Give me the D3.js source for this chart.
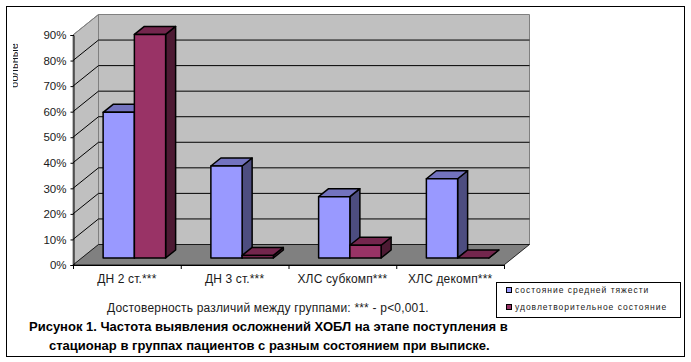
<!DOCTYPE html>
<html>
<head>
<meta charset="utf-8">
<script src="https://cdn.jsdelivr.net/npm/d3@7"></script>
<style>
  html, body { margin: 0; padding: 0; background: #fff; }
  svg { display: block; }
  text { font-family: "Liberation Sans", Arial, sans-serif; fill: #1a1a1a; }
</style>
</head>
<body>
<div id="chart"></div>
<script>
const categories = ["ДН 2 ст.***", "ДН 3 ст.***", "ХЛС субкомп***", "ХЛС декомп***"];
const seriesNames = ["состояние средней тяжести", "удовлетворительное состояние"];
const moderate = [57, 36, 24, 31];
const satisfactory = [87.5, 1, 5, 0];
const yTicks = [0, 10, 20, 30, 40, 50, 60, 70, 80, 90];
const yTitle = "больные";
const note = "Достоверность различий между группами: *** - p<0,001.";
const captionLines = [
    "Рисунок 1. Частота выявления осложнений ХОБЛ на этапе поступления в",
    "стационар в группах пациентов с разным состоянием при выписке."
];

const chartW = 691, chartH = 362;
const colors = [
    {front: "#9999ff", top: "#7373bf", side: "#4d4d80"},
    {front: "#993366", top: "#73264d", side: "#4d1a33"}
];

// 3d offsets: wall depth and single bar depth
const depth = {x: 25.5, y: 20.5};
const barDepth = {x: 10, y: 8};
const inset = {x: 7.5, y: 7};

const svg = d3.select("#chart")
    .append("svg")
    .attr("width", chartW)
    .attr("height", chartH);

svg.append("rect")
    .attr("x", 6.5).attr("y", 6.5)
    .attr("width", 678).attr("height", 350)
    .attr("fill", "#fff")
    .attr("stroke", "#000")
    .attr("stroke-width", 1);

const x0 = d3.scaleBand()
    .domain(categories)
    .range([73, 504])
    .paddingInner(0.42)
    .paddingOuter(0.21);

const x1 = d3.scaleBand()
    .domain([0, 1])
    .range([0, x0.bandwidth()]);

const y = d3.scaleLinear()
    .domain([0, 90])
    .range([265, 35]);

const path = pts => d3.line()(pts) + "Z";
const [plotL, plotR] = x0.range();
const [plotB, plotT] = y.range();

// back wall, side wall, floor
svg.append("path")
    .attr("d", path([[plotL + depth.x, plotT - depth.y], [plotR + depth.x, plotT - depth.y],
        [plotR + depth.x, plotB - depth.y], [plotL + depth.x, plotB - depth.y]]))
    .attr("fill", "#c0c0c0")
    .attr("stroke", "#808080");

svg.append("path")
    .attr("d", path([[plotL, plotT], [plotL + depth.x, plotT - depth.y],
        [plotL + depth.x, plotB - depth.y], [plotL, plotB]]))
    .attr("fill", "#c0c0c0")
    .attr("stroke", "#808080");

svg.append("path")
    .attr("d", path([[plotL, plotB], [plotL + depth.x, plotB - depth.y],
        [plotR + depth.x, plotB - depth.y], [plotR, plotB]]))
    .attr("fill", "#808080")
    .attr("stroke", "#000")
    .attr("stroke-width", 0.8);

// gridlines
const grid = svg.append("g").attr("fill", "none").attr("stroke", "#000").attr("stroke-width", 1);
yTicks.filter(d => d > 0 && d < 90).forEach(d => {
    grid.append("path")
        .attr("d", d3.line()([[plotL, y(d)], [plotL + depth.x, y(d) - depth.y], [plotR + depth.x, y(d) - depth.y]]));
});
svg.append("line")
    .attr("x1", plotL).attr("y1", plotT)
    .attr("x2", plotL + depth.x).attr("y2", plotT - depth.y)
    .attr("stroke", "#808080");

// bars
const bars = svg.append("g").attr("stroke", "#000").attr("stroke-width", 1.5).attr("stroke-linejoin", "round");

function drawBar(cat, s, value) {
    const xa = x0(cat) + x1(s) + inset.x;
    const xb = xa + x1.bandwidth();
    const yBase = y(0) - inset.y;
    const yTop = y(value) - inset.y;
    const c = colors[s];
    const dx = barDepth.x, dy = barDepth.y;

    bars.append("path")
        .attr("d", path([[xb, yBase], [xb + dx, yBase - dy], [xb + dx, yTop - dy], [xb, yTop]]))
        .attr("fill", c.side);
    bars.append("path")
        .attr("d", path([[xa, yTop], [xa + dx, yTop - dy], [xb + dx, yTop - dy], [xb, yTop]]))
        .attr("fill", c.top);
    if (value > 0) {
        bars.append("rect")
            .attr("x", xa).attr("y", yTop)
            .attr("width", xb - xa).attr("height", yBase - yTop)
            .attr("fill", c.front);
    }
}

categories.forEach((cat, i) => {
    drawBar(cat, 0, moderate[i]);
    drawBar(cat, 1, satisfactory[i]);
});

// axes
const yAxis = svg.append("g")
    .attr("transform", `translate(${plotL + 0.5},0)`)
    .call(d3.axisLeft(y).tickValues(yTicks).tickFormat(d => d + "%").tickSize(3).tickPadding(4));
yAxis.select(".domain").attr("stroke", "#000");
yAxis.selectAll("text").attr("font-size", 11.5).style("font-family", '"Liberation Sans", sans-serif');

const xTickPositions = d3.range(categories.length + 1).map(i => plotL + i * x0.step());
const xAxis = svg.append("g").attr("stroke", "#000");
xAxis.append("line").attr("x1", plotL).attr("x2", plotR).attr("y1", plotB + 0.5).attr("y2", plotB + 0.5);
xAxis.selectAll(".xtick")
    .data(xTickPositions)
    .join("line")
    .attr("class", "xtick")
    .attr("x1", d => d + 0.5).attr("x2", d => d + 0.5)
    .attr("y1", plotB).attr("y2", plotB + 4);

svg.append("g").selectAll("text")
    .data(categories)
    .join("text")
    .attr("x", d => x0(d) + x0.bandwidth() / 2)
    .attr("y", 283)
    .attr("text-anchor", "middle")
    .attr("font-size", 12)
    .attr("letter-spacing", 0.15)
    .text(d => d);

// y title is cut off in the source, only the lower half of the letters shows
svg.append("clipPath").attr("id", "titleClip")
    .append("rect").attr("x", 13).attr("y", 40).attr("width", 5).attr("height", 50);
svg.append("g").attr("clip-path", "url(#titleClip)")
    .append("text")
    .attr("transform", "translate(18,88) rotate(-90)")
    .attr("font-size", 11)
    .attr("textLength", 45)
    .text(yTitle);

// note and caption
svg.append("text")
    .attr("x", 107).attr("y", 312)
    .attr("font-size", 12)
    .attr("letter-spacing", 0.2)
    .text(note);

svg.append("text")
    .attr("x", 29).attr("y", 331)
    .attr("font-size", 13)
    .attr("font-weight", "bold")
    .style("fill", "#000")
    .text(captionLines[0]);
svg.append("text")
    .attr("x", 49).attr("y", 350)
    .attr("font-size", 13)
    .attr("font-weight", "bold")
    .style("fill", "#000")
    .text(captionLines[1]);

// legend
const legend = svg.append("g");
legend.append("rect")
    .attr("x", 496.5).attr("y", 282.5)
    .attr("width", 184).attr("height", 35)
    .attr("fill", "#fff").attr("stroke", "#000");

seriesNames.forEach((name, i) => {
    const ly = 287 + i * 17;
    legend.append("rect")
        .attr("x", 506.5).attr("y", ly + 0.5)
        .attr("width", 5).attr("height", 5)
        .attr("fill", colors[i].front).attr("stroke", "#000");
    legend.append("text")
        .attr("x", 515).attr("y", ly + 6)
        .attr("font-size", 8.5)
        .attr("letter-spacing", 0.98)
        .text(name);
});
</script>
</body>
</html>
